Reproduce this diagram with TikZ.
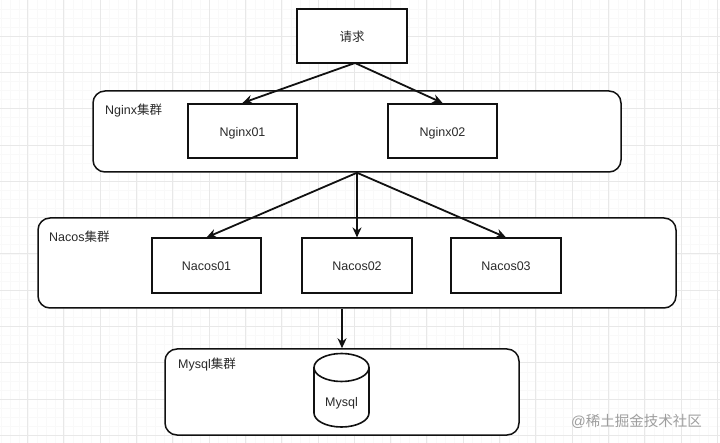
\documentclass[tikz,border=0pt]{standalone}
\usepackage{fontspec}
\setmainfont{Liberation Sans}
\newfontfamily\cjk{Noto Sans CJK SC}
\usetikzlibrary{arrows.meta}
\definecolor{ink}{HTML}{111111}
\definecolor{txt}{HTML}{2A2A2A}
\tikzset{
  boxnode/.style={draw=ink,line width=1.6pt,fill=white,minimum width=109pt,minimum height=54.5pt,inner sep=0pt,text=txt,text height=11pt,text depth=0pt,font=\fontsize{12.5}{14}\selectfont},
  groupnode/.style={draw=ink,line width=1.5pt,fill=white,rounded corners=12pt,inner sep=0pt},
  grouplabel/.style={anchor=west,inner sep=0pt,text=txt,font=\fontsize{12.5}{14}\selectfont},
  link/.style={draw=ink,line width=1.8pt,-{Stealth[length=10pt,width=9pt]}},
  majorgrid/.style={draw=black!9,line width=0.7pt},
  minorgrid/.style={draw=black!2.5,line width=0.5pt}
}
\begin{document}
\begin{tikzpicture}[x=1pt,y=-1pt]
\useasboundingbox (0,0) rectangle (720,443);
\fill[white] (0,0) rectangle (720,443);
\foreach \i in {0,...,80}{
  \draw[minorgrid] ({0.75+9.075*\i},0) -- ({0.75+9.075*\i},443);
  \draw[minorgrid] (0,{-0.3+9.075*\i}) -- (720,{-0.3+9.075*\i});
}
\foreach \i in {0,...,19}{
  \draw[majorgrid] ({27.5+36.3*\i},0) -- ({27.5+36.3*\i},443);
  \draw[majorgrid] (0,{36+36.3*\i}) -- (720,{36+36.3*\i});
}
% groups
\node[groupnode,minimum width=528pt,minimum height=81pt] (nginxgroup) at (357,131.5) {};
\node[groupnode,minimum width=638pt,minimum height=90pt] (nacosgroup) at (357,263) {};
\node[groupnode,minimum width=354pt,minimum height=86pt] (mysqlgroup) at (342,392) {};
\node[grouplabel] (nginxlabel) at (105,111) {Nginx{\cjk 集群}};
\node[grouplabel] (nacoslabel) at (49,237) {Nacos{\cjk 集群}};
\node[grouplabel] (mysqllabel) at (178,365) {Mysql{\cjk 集群}};
% boxes
\node[boxnode,minimum width=110pt] (req) at (352,36) {\cjk 请求};
\node[boxnode] (nginxa) at (242.5,131) {Nginx01};
\node[boxnode] (nginxb) at (442.5,131) {Nginx02};
\node[boxnode] (nacosa) at (206.5,265.5) {Nacos01};
\node[boxnode,minimum width=110pt] (nacosb) at (357,265.5) {Nacos02};
\node[boxnode,minimum width=110pt] (nacosc) at (506,265.5) {Nacos03};
% cylinder
\coordinate (dbtop) at (342,353.5);
\draw[draw=ink,line width=1.6pt,fill=white] (314,367.5) arc[start angle=180,end angle=0,x radius=27.5pt,y radius=14pt] -- (369,413) arc[start angle=0,end angle=-180,x radius=27.5pt,y radius=14pt] -- cycle;
\draw[draw=ink,line width=1.6pt] (314,367.5) arc[start angle=180,end angle=360,x radius=27.5pt,y radius=14pt];
\node[text=txt,font=\fontsize{12.5}{14}\selectfont,inner sep=0pt] (dbtext) at (341.5,403) {Mysql};
% connectors
\coordinate (reqout) at (355,63);
\coordinate (fanout) at (nacosb.north |- nginxgroup.south);
\draw[link] (reqout) -- (nginxa.north);
\draw[link] (reqout) -- (nginxb.north);
\draw[link] (fanout) -- (nacosa.north);
\draw[link] (fanout) -- (nacosb.north);
\draw[link] (fanout) -- (nacosc.north);
\draw[link] (dbtop |- nacosgroup.south) -- (dbtop |- mysqlgroup.north);
% watermark
\node[anchor=west,inner sep=0pt,text=black!38,font=\fontsize{14.5}{16}\selectfont] (mark) at (571,421) {@{\cjk 稀土掘金技术社区}};
\end{tikzpicture}
\end{document}
